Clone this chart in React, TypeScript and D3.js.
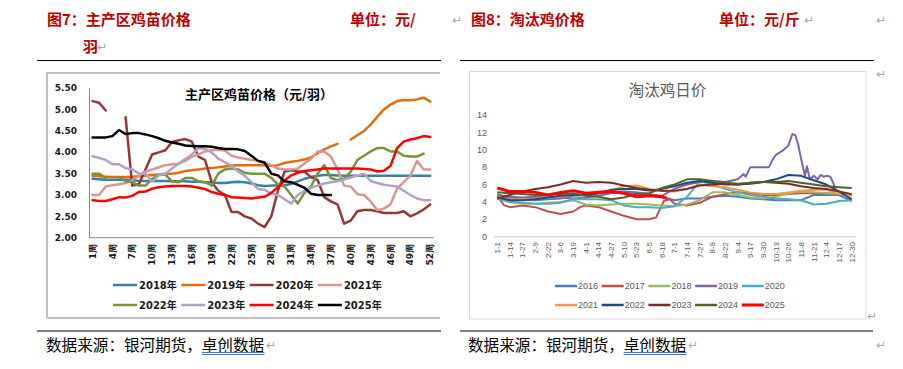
import React from "react";
import * as d3 from "d3";

// ---------- 图7：主产区鸡苗价格（元/羽），周度 ----------
const weeks = d3.range(1, 53).map((w) => `${w}周`);
const chickYears = ["2018年", "2019年", "2020年", "2021年", "2022年", "2023年", "2024年", "2025年"];
const chickColors = ["#31859c", "#e46c0a", "#953735", "#d99694", "#77933c", "#b3a2c7", "#ff0000", "#000000"];

const chick2018 = [3.38, 3.37, 3.36, 3.36, 3.36, 3.36, 3.35, 3.33, 3.33, 3.33, 3.33, 3.33, 3.32, 3.32, 3.32, 3.31, 3.31, 3.3, 3.3, 3.28, 3.28, 3.3, 3.31, 3.3, 3.27, 3.23, 3.21, 3.22, 3.22, 3.23, 3.26, 3.32, 3.38, 3.42, 3.45, 3.47, 3.47, 3.46, 3.45, 3.45, 3.45, 3.45, 3.45, 3.45, 3.45, 3.45, 3.45, 3.45, 3.45, 3.45, 3.45, 3.45];
const chick2019 = [3.45, 3.44, 3.43, 3.42, 3.42, 3.42, 3.43, 3.44, 3.45, 3.47, 3.48, 3.5, 3.5, 3.52, 3.56, 3.58, 3.6, 3.62, 3.63, 3.65, 3.67, 3.69, 3.7, 3.7, 3.7, 3.7, 3.7, 3.68, 3.7, 3.75, 3.78, 3.8, 3.83, 3.88, 3.98, 4.07, 4.14, 4.2, null, 4.3, 4.4, 4.5, 4.65, 4.83, 5.0, 5.12, 5.2, 5.22, 5.22, 5.24, 5.28, 5.19];
const chick2020 = [5.2, 5.16, 4.98, null, null, 4.82, 3.22, 3.25, 3.6, 3.95, 4.0, 4.05, 4.24, 4.28, 4.31, 4.25, 3.9, 3.82, 3.3, 3.1, 3.0, 2.6, 2.6, 2.5, 2.45, 2.33, 2.25, 2.5, 3.1, 3.55, 3.58, 3.55, 3.55, 3.42, 3.35, 2.95, 2.85, 2.78, 2.33, 2.4, 2.62, 2.65, 2.65, 2.62, 2.58, 2.58, 2.58, 2.62, 2.5, 2.57, 2.66, 2.78];
const chick2021 = [3.0, 3.0, 3.2, 3.23, 3.25, 3.28, 3.35, 3.45, 3.55, 3.6, 3.65, 3.7, 3.72, 3.73, 3.8, 3.9, 3.95, 4.02, 4.05, 4.06, 4.04, 3.92, 3.88, 3.85, 3.82, 3.8, 3.75, 3.7, 3.62, 3.6, 3.6, 3.62, 3.74, 3.85, 4.02, 4.02, 3.9, 3.6, 3.22, 3.2, 3.02, 3.0, 2.85, 2.65, 2.68, 2.78, 3.15, 3.3, 3.45, 3.8, 3.6, 3.6];
const chick2022 = [3.5, 3.5, 3.4, null, 3.42, 3.33, 3.3, 3.22, 3.22, 3.38, 3.47, 3.48, 3.32, 3.3, 3.4, 3.4, 3.32, 3.3, 3.22, 3.5, 3.6, 3.62, 3.6, 3.52, 3.5, 3.5, 3.5, 3.4, 3.25, 3.2, 3.0, 2.8, 3.05, 3.2, 3.5, 3.7, 3.4, 3.35, 3.38, 3.55, 3.82, 3.92, 4.02, 4.1, 4.1, 4.02, 4.02, 3.92, 3.9, 3.9, 3.97, null];
const chick2023 = [3.91, 3.87, 3.82, 3.72, 3.72, 3.63, 3.6, 3.5, 3.5, 3.31, 3.46, 3.5, 3.62, 3.74, 3.84, 3.95, 4.1, 4.08, 4.0, 3.85, 3.77, 3.68, 3.55, 3.45, 3.3, 3.14, 3.12, 3.04, 3.0, 2.9, 2.8, 3.0, 3.1, 3.17, 3.22, 3.27, 3.3, 3.32, 3.36, 3.41, 3.45, 3.5, 3.33, 3.28, 3.24, 3.22, 3.2, 3.1, 3.0, 2.92, 2.88, 2.88];
const chick2024 = [2.88, 2.86, 2.86, 2.9, 2.95, 2.94, 2.98, 3.07, 3.08, 3.15, 3.18, 3.2, 3.21, 3.21, 3.21, 3.2, 3.17, 3.14, 3.07, 3.03, 3.0, 2.95, 2.94, 2.93, 2.92, 2.94, 2.96, 3.05, 3.18, 3.34, 3.46, 3.52, 3.56, 3.58, 3.6, 3.62, 3.62, 3.62, 3.62, 3.62, 3.62, 3.61, 3.6, 3.55, 3.57, 3.68, 4.1, 4.25, 4.3, 4.33, 4.38, 4.36];
const chick2025 = [4.35, 4.35, 4.35, 4.38, 4.52, 4.43, 4.45, 4.45, 4.42, 4.38, 4.33, 4.27, 4.23, 4.2, 4.16, 4.15, 4.14, 4.14, 4.13, 4.1, 4.08, 4.08, 4.07, 4.03, 3.92, 3.8, 3.76, 3.5, 3.46, 3.32, 3.3, 3.24, 3.17, 3.03, 3.0, 3.0, 3.0];
const chickSeries = [chick2018, chick2019, chick2020, chick2021, chick2022, chick2023, chick2024, chick2025];
const chickTicks = [2.0, 2.5, 3.0, 3.5, 4.0, 4.5, 5.0, 5.5];

// ---------- 图8：淘汰鸡日价（元/斤） ----------
const dayTicks = ["1-1", "1-14", "1-27", "2-9", "2-22", "3-6", "3-19", "4-1", "4-14", "4-27", "5-10", "5-23", "6-5", "6-18", "7-1", "7-14", "7-27", "8-9", "8-22", "9-4", "9-17", "9-30", "10-13", "10-26", "11-8", "11-21", "12-4", "12-17", "12-30"];
const henYears = ["2016", "2017", "2018", "2019", "2020", "2021", "2022", "2023", "2024", "2025"];
const henColors = ["#4a7ebb", "#c0504d", "#9bbb59", "#8064a2", "#4bacc6", "#f79646", "#1f497d", "#772c2a", "#4f6228", "#ff0000"];

const hen2016 = [4.9, 4.4, 4.3, 4.2, 4.3, 4.4, 4.7, 4.8, 5.0, 5.1, 5.2, 5.1, 4.9, 4.6, 4.2, 4.4, 4.4, 4.6, 4.7, 4.6, 4.4, 4.3, 4.2, 4.2, 4.2, 4.8, 4.8, 4.8, 4.1];
const days2017 = ["1-1", "1-8", "1-14", "1-27", "2-9", "2-22", "3-6", "3-19", "3-26", "4-1", "4-14", "4-27", "5-10", "5-23", "6-5", "6-12", "6-20", "6-26", "7-1", "7-14", "7-27", "8-9", "8-22", "9-4", "9-17", "9-30", "10-13", "10-26", "11-8", "11-21", "12-4", "12-17", "12-30"];
const hen2017 = [4.7, 3.6, 3.4, 3.6, 3.4, 2.9, 2.6, 2.9, 3.4, 3.6, 3.4, 2.9, 2.4, 2.0, 2.0, 2.2, 4.1, 4.3, 3.8, 3.6, 3.9, 4.6, 4.9, 5.1, 5.0, 4.8, 4.8, 4.9, 5.0, 5.0, 5.0, 4.9, 4.8];
const hen2018 = [5.0, 4.0, 3.8, 3.8, 3.9, 4.0, 4.2, 3.7, 3.6, 3.7, 3.8, 3.8, 3.7, 3.6, 3.5, 3.7, 4.2, 5.1, 5.1, 4.8, 4.5, 4.4, 4.6, 5.0, 5.2, 5.1, 5.0, 4.9, 4.9];
const days2019 = ["1-1", "1-14", "1-27", "2-9", "2-22", "3-6", "3-19", "4-1", "4-14", "4-27", "5-10", "5-23", "6-5", "6-18", "7-1", "7-14", "7-27", "8-9", "8-22", "9-4", "9-10", "9-12", "9-17", "9-30", "10-6", "10-10", "10-13", "10-20", "10-26", "10-30", "11-2", "11-5", "11-8", "11-10", "11-12", "11-14", "11-17", "11-21", "11-25", "11-28", "12-1", "12-4", "12-8", "12-11", "12-13"];
const hen2019 = [4.8, 4.6, 4.5, 4.6, 4.5, 4.5, 4.4, 4.5, 4.7, 5.0, 5.1, 5.0, 4.8, 4.7, 5.5, 6.0, 6.3, 6.4, 6.3, 6.6, 7.2, 6.9, 8.0, 8.0, 8.0, 8.9, 9.4, 9.9, 10.5, 11.8, 11.7, 10.6, 9.0, 8.0, 7.0, 8.1, 6.6, 7.0, 6.6, 7.1, 6.9, 7.0, 6.9, 6.2, 5.6];
const hen2020 = [4.4, 4.0, 3.9, 3.8, 3.8, 3.9, 4.3, 4.3, 4.3, 4.2, 3.6, 3.4, 3.4, 3.3, 3.5, 4.6, 6.4, 6.0, 5.5, 5.1, 4.8, 4.6, 4.4, 4.3, 4.2, 3.7, 3.8, 4.1, 4.2];
const hen2021 = [4.4, 4.3, 4.3, 4.4, 4.5, 4.6, 4.8, 4.8, 5.0, 5.3, 5.8, 5.9, 5.5, 5.3, 5.2, 5.5, 6.0, 5.8, 5.7, 5.4, 5.1, 4.9, 4.9, 5.1, 5.3, 5.4, 5.4, 4.9, 4.7];
const hen2022 = [4.5, 4.2, 4.2, 4.3, 4.5, 4.7, 4.8, 4.8, 5.0, 5.4, 5.5, 5.5, 5.3, 5.5, 5.8, 6.2, 6.4, 6.2, 6.0, 6.0, 6.2, 6.3, 6.6, 7.1, 7.0, 6.5, 6.0, 5.2, 4.3];
const hen2023 = [4.4, 4.8, 5.2, 5.5, 5.7, 6.0, 6.4, 6.2, 6.3, 6.2, 5.9, 5.6, 5.4, 5.3, 5.3, 5.5, 5.9, 6.0, 6.1, 6.0, 6.1, 6.3, 6.2, 6.1, 5.8, 5.6, 5.5, 5.2, 4.9];
const hen2024 = [5.1, 5.0, 4.9, 4.8, 4.8, 4.9, 5.0, 4.7, 4.6, 4.3, 4.5, 4.9, 5.0, 5.6, 6.0, 6.6, 6.6, 6.4, 6.2, 6.1, 6.2, 6.3, 6.3, 6.4, 6.2, 6.0, 5.8, 5.7, 5.6];
const days2025 = ["1-1", "1-14", "1-27", "2-9", "2-22", "3-6", "3-19", "4-1", "4-14", "4-27", "5-10", "5-23", "6-5", "6-18", "6-23"];
const hen2025 = [5.6, 5.2, 5.2, 5.1, 4.8, 5.1, 5.3, 5.0, 5.1, 5.2, 5.0, 4.6, 4.7, 4.6, 4.4];

const henSeries = [
  { days: dayTicks, vals: hen2016 },
  { days: days2017, vals: hen2017 },
  { days: dayTicks, vals: hen2018 },
  { days: days2019, vals: hen2019 },
  { days: dayTicks, vals: hen2020 },
  { days: dayTicks, vals: hen2021 },
  { days: dayTicks, vals: hen2022 },
  { days: dayTicks, vals: hen2023 },
  { days: dayTicks, vals: hen2024 },
  { days: days2025, vals: hen2025 },
];
const henTicks = [0, 2, 4, 6, 8, 10, 12, 14];

const cjk = "'Noto Sans CJK SC', 'Noto Sans', sans-serif";
const latinL = "'DejaVu Sans', Verdana, sans-serif";
const latinR = "'Liberation Sans', Arial, sans-serif";
const markColor = "#a6a6a6";
const captionRed = "#c00000";

const parseDay = d3.timeParse("%Y-%m-%d");
const toDate = (s: string) => parseDay(`2020-${s}`) as Date;

function ChickChart() {
  const x = d3.scaleBand<string>().domain(weeks).range([89.2, 433.5]);
  const y = d3.scaleLinear().domain([2, 5.5]).range([237.7, 88.3]);
  const cx = (w: string) => (x(w) as number) + x.bandwidth() / 2;
  const line = d3
    .line<number | null>()
    .defined((d) => d != null)
    .x((_, i) => cx(weeks[i]))
    .y((d) => y(d as number));

  return (
    <g>
      {/* frame */}
      <path d="M47,318 V73 H440 M47,318 H440" fill="none" stroke="#bfbfbf" strokeWidth={2} />
      <text x={259} y={98.5} textAnchor="middle" fontFamily={cjk} fontWeight="bold" fontSize={13} fill="#000">
        主产区鸡苗价格（元/羽）
      </text>
      {chickTicks.map((t) => (
        <text key={t} x={77} y={y(t)} dy="0.35em" textAnchor="end" fontFamily={latinL} fontWeight="bold" fontSize={9} fill="#1a1a1a">
          {t.toFixed(2)}
        </text>
      ))}
      <line x1={89.5} x2={89.5} y1={88} y2={238} stroke="#868686" strokeWidth={1} />
      <line x1={89} x2={433.5} y1={237.7} y2={237.7} stroke="#868686" strokeWidth={1} />
      {weeks
        .filter((_, i) => i % 3 === 0)
        .map((w) => (
          <text key={w} transform={`translate(${cx(w)},244) rotate(-90)`} dy="0.35em" textAnchor="end" fontFamily={latinL} fontWeight="bold" fontSize={9} fill="#1a1a1a">
            {w}
          </text>
        ))}
      {chickSeries.map((s, i) => (
        <path key={i} d={line(s) || ""} fill="none" stroke={chickColors[i]} strokeWidth={2.5} strokeLinejoin="round" strokeLinecap="round" />
      ))}
      {chickYears.map((yr, i) => {
        const lx = 113 + (i % 4) * 68.3;
        const ly = i < 4 ? 285 : 305;
        return (
          <g key={yr}>
            <line x1={lx} x2={lx + 24} y1={ly} y2={ly} stroke={chickColors[i]} strokeWidth={2.5} />
            <text x={lx + 26} y={ly} dy="0.35em" fontFamily={`${latinL}, ${cjk}`} fontWeight="bold" fontSize={10} fill="#1a1a1a">
              {yr}
            </text>
          </g>
        );
      })}
    </g>
  );
}

function HenChart() {
  const x = d3.scaleTime().domain([toDate("1-1"), toDate("12-30")]).range([497.3, 851.7]);
  const y = d3.scaleLinear().domain([0, 14]).range([236.7, 115]);

  return (
    <g>
      <rect x={469.5} y={71.5} width={396.5} height={247.5} fill="none" stroke="#d9d9d9" strokeWidth={1} />
      <text x={667.5} y={96} textAnchor="middle" fontFamily={cjk} fontSize={15.5} fill="#595959">
        淘汰鸡日价
      </text>
      {henTicks.map((t) => (
        <text key={t} x={487} y={y(t)} dy="0.35em" textAnchor="end" fontFamily={latinR} fontSize={9} fill="#595959">
          {t}
        </text>
      ))}
      <line x1={493} x2={856} y1={236.7} y2={236.7} stroke="#d9d9d9" strokeWidth={1.5} />
      {dayTicks.map((d) => (
        <text key={d} transform={`translate(${x(toDate(d))},242) rotate(-90)`} dy="0.35em" textAnchor="end" fontFamily={latinR} fontSize={8} fill="#595959">
          {d}
        </text>
      ))}
      {henSeries.map((s, i) => {
        const line = d3
          .line<number>()
          .x((_, j) => x(toDate(s.days[j])))
          .y((d) => y(d));
        return (
          <path key={i} d={line(s.vals) || ""} fill="none" stroke={henColors[i]} strokeWidth={i === 9 ? 3 : 2} strokeLinejoin="round" />
        );
      })}
      {henYears.map((yr, i) => {
        const lx = 555 + (i % 5) * 46.7;
        const ly = i < 5 ? 286 : 305;
        return (
          <g key={yr}>
            <line x1={lx} x2={lx + 22} y1={ly} y2={ly} stroke={henColors[i]} strokeWidth={i === 9 ? 3 : 2.5} />
            <text x={lx + 23} y={ly} dy="0.35em" fontFamily={latinR} fontSize={9} fill="#595959">
              {yr}
            </text>
          </g>
        );
      })}
    </g>
  );
}

function Source({ x0, markX }: { x0: number; markX: number }) {
  return (
    <g fontFamily={cjk} fontSize={15.6} fill="#000">
      <text x={x0} y={350.5}>数据来源：银河期货，</text>
      <text x={x0 + 155.7} y={350.5}>卓创数据</text>
      <line x1={x0 + 155.7} x2={x0 + 218.5} y1={352.5} y2={352.5} stroke="#4472c4" strokeWidth={1} />
      <line x1={x0 + 155.7} x2={x0 + 218.5} y1={354.5} y2={354.5} stroke="#4472c4" strokeWidth={1} />
      <text x={markX} y={349} fontFamily={latinL} fontSize={12} fill={markColor}>↵</text>
    </g>
  );
}

export default function App() {
  return (
    <svg width={903} height={369} style={{ position: "absolute", left: 0, top: 0, background: "#fff" }}>
      <rect width={903} height={369} fill="#fff" />
      {/* captions */}
      <g fontFamily={cjk} fontWeight="bold" fontSize={15} fill={captionRed}>
        <text x={47} y={25}>图7：主产区鸡苗价格</text>
        <text x={350} y={25}>单位：元/</text>
        <text x={83} y={52}>羽</text>
        <text x={471} y={25}>图8：淘汰鸡价格</text>
        <text x={719} y={25}>单位：元/斤</text>
      </g>
      <g fontFamily={latinL} fontSize={12} fill={markColor}>
        <text x={452} y={24}>↵</text>
        <text x={97} y={51}>↵</text>
        <text x={804} y={24}>↵</text>
        <text x={876} y={24}>↵</text>
        <text x={876} y={78}>↵</text>
        <text x={867} y={320}>↵</text>
        <text x={876} y={349}>↵</text>
      </g>
      <line x1={37} x2={441} y1={60.5} y2={60.5} stroke="#000" strokeWidth={1} />
      <line x1={460} x2={874} y1={60.5} y2={60.5} stroke="#000" strokeWidth={1} />
      <line x1={37} x2={441} y1={331} y2={331} stroke="#000" strokeWidth={1} />
      <line x1={460} x2={873} y1={331} y2={331} stroke="#000" strokeWidth={1} />
      <ChickChart />
      <HenChart />
      <Source x0={46} markX={266} />
      <Source x0={468} markX={688} />
    </svg>
  );
}
